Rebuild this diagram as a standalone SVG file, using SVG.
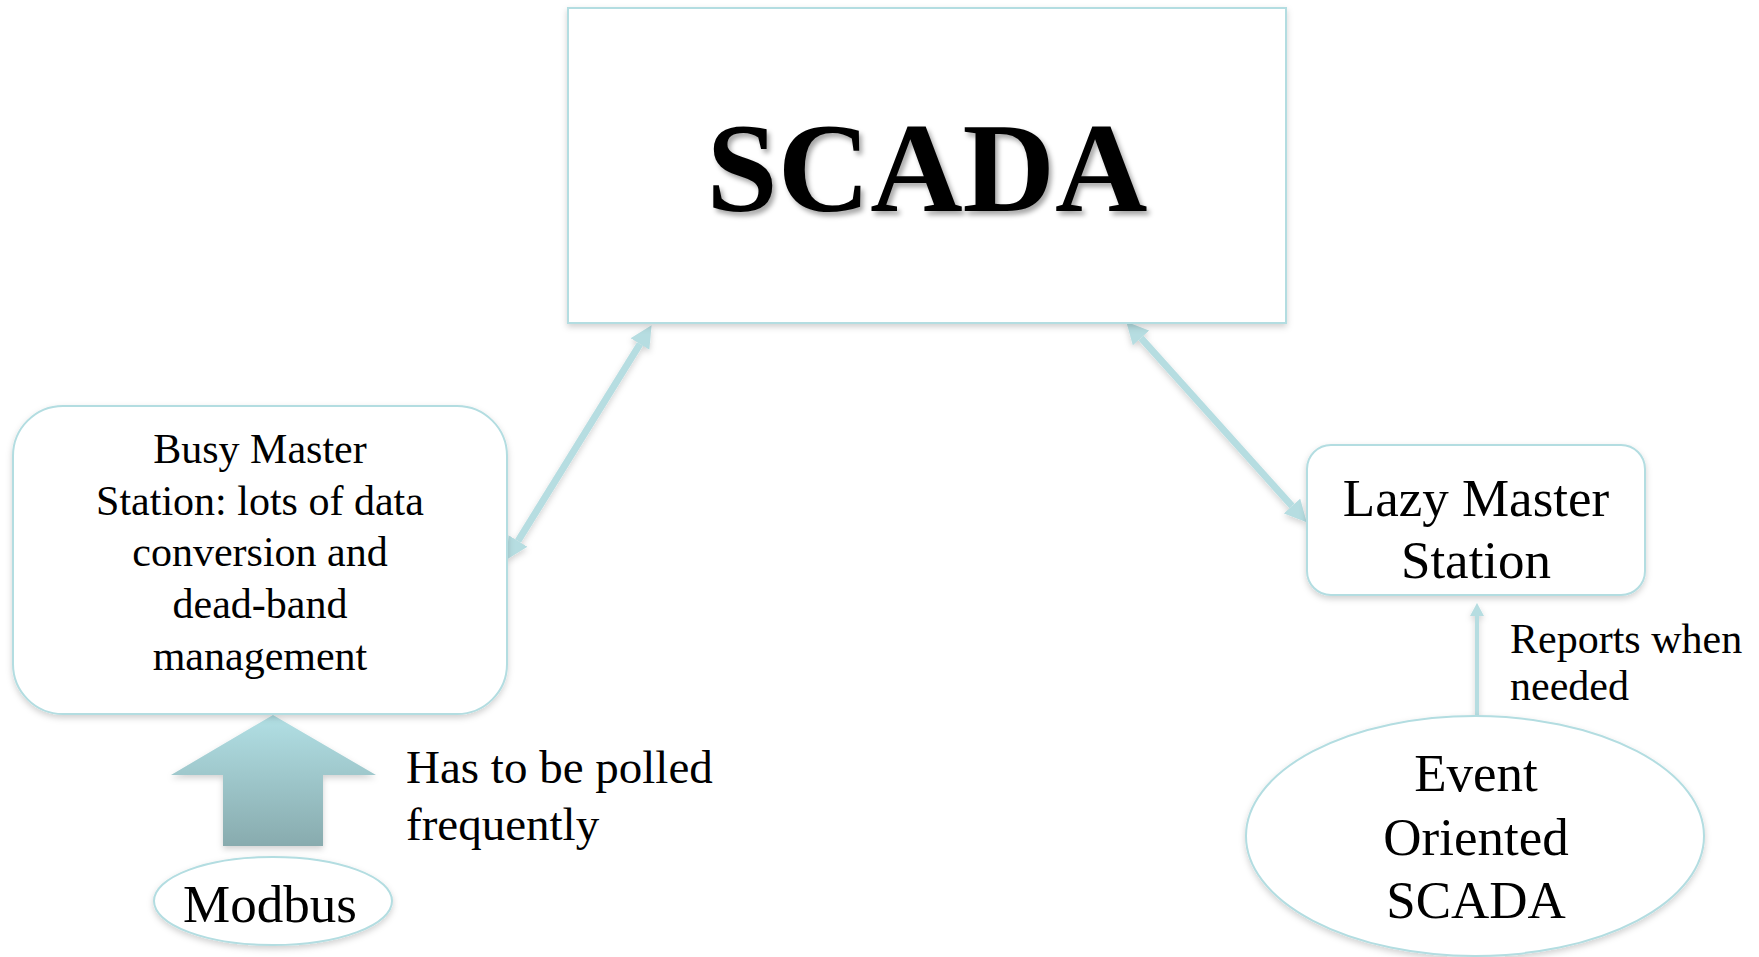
<svg xmlns="http://www.w3.org/2000/svg" width="1759" height="957" viewBox="0 0 1759 957">
  <style>
    .box { fill: #ffffff; stroke: #b3dde1; stroke-width: 2; }
    .txt { font-family: "Liberation Serif", "Times New Roman", serif; fill: #000000; text-anchor: middle; }
    .lbl { font-family: "Liberation Serif", "Times New Roman", serif; fill: #000000; }
    .conn { stroke: #b6dde1; fill: none; }
  </style>
  <defs>
    <filter id="sh" x="-10%" y="-10%" width="120%" height="130%">
      <feDropShadow dx="0" dy="3" stdDeviation="3" flood-color="#000000" flood-opacity="0.18"/>
    </filter>
    <filter id="tsh" x="-5%" y="-10%" width="115%" height="130%">
      <feDropShadow dx="3" dy="4" stdDeviation="2.5" flood-color="#000000" flood-opacity="0.35"/>
    </filter>
    <linearGradient id="bigArrow" x1="0" y1="0" x2="0" y2="1">
      <stop offset="0" stop-color="#b2e0e5"/>
      <stop offset="1" stop-color="#88abae"/>
    </linearGradient>
    <marker id="head" markerUnits="userSpaceOnUse" markerWidth="22" markerHeight="22" refX="0" refY="11" orient="auto-start-reverse" viewBox="0 0 22 22">
      <path d="M0,0 L22,11 L0,22 z" fill="#b6dde1"/>
    </marker>
    <marker id="headS" markerUnits="userSpaceOnUse" markerWidth="13" markerHeight="14" refX="0" refY="7" orient="auto" viewBox="0 0 13 14">
      <path d="M0,0 L13,7 L0,14 z" fill="#b6dde1"/>
    </marker>
  </defs>

  <g id="connectors" filter="url(#sh)">
    <line class="conn" x1="518" y1="541" x2="640" y2="344" stroke-width="7" marker-start="url(#head)" marker-end="url(#head)"/>
    <line class="conn" x1="1141" y1="338" x2="1292" y2="506" stroke-width="7" marker-start="url(#head)" marker-end="url(#head)"/>
    <line class="conn" x1="1477" y1="716" x2="1477" y2="616" stroke-width="4" marker-end="url(#headS)"/>
    <path id="modbus-arrow" d="M273,715 L376,775 L323,775 L323,846 L223,846 L223,775 L171,775 Z" fill="url(#bigArrow)"/>
  </g>

  <g id="scada">
    <rect class="box" x="568" y="8" width="718" height="315" filter="url(#sh)"/>
    <text class="txt" x="927" y="211" font-size="128" font-weight="bold" filter="url(#tsh)">SCADA</text>
  </g>

  <g id="busy-master">
    <rect class="box" x="13" y="406" width="494" height="308" rx="50" ry="50" filter="url(#sh)"/>
    <text class="txt" x="260" y="463" font-size="42">Busy Master</text>
    <text class="txt" x="260" y="515" font-size="42">Station: lots of data</text>
    <text class="txt" x="260" y="566" font-size="42">conversion and</text>
    <text class="txt" x="260" y="618" font-size="42">dead-band</text>
    <text class="txt" x="260" y="670" font-size="42">management</text>
  </g>

  <g id="lazy-master">
    <rect class="box" x="1307" y="445" width="338" height="150" rx="24" ry="24" filter="url(#sh)"/>
    <text class="txt" x="1476" y="516" font-size="53">Lazy Master</text>
    <text class="txt" x="1476" y="578" font-size="53">Station</text>
  </g>

  <g id="modbus">
    <ellipse class="box" cx="273" cy="901" rx="119" ry="44" filter="url(#sh)"/>
    <text class="txt" x="270" y="922" font-size="53">Modbus</text>
  </g>

  <g id="event-scada">
    <ellipse class="box" cx="1475" cy="836" rx="229" ry="120" filter="url(#sh)"/>
    <text class="txt" x="1476" y="791" font-size="53">Event</text>
    <text class="txt" x="1476" y="855" font-size="53">Oriented</text>
    <text class="txt" x="1476" y="918" font-size="53">SCADA</text>
  </g>

  <g id="labels">
    <text class="lbl" x="406" y="783" font-size="47">Has to be polled</text>
    <text class="lbl" x="406" y="840" font-size="47">frequently</text>
    <text class="lbl" x="1510" y="653" font-size="42">Reports when</text>
    <text class="lbl" x="1510" y="700" font-size="42">needed</text>
  </g>
</svg>
